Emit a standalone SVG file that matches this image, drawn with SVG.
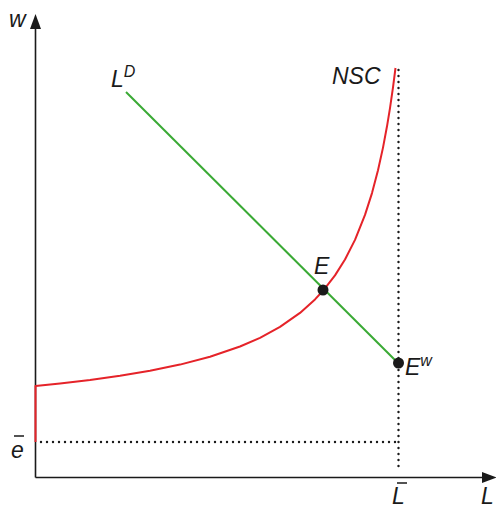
<svg xmlns="http://www.w3.org/2000/svg" width="496" height="508" viewBox="0 0 496 508">
<style>
.axis{stroke:#1a1a1a;stroke-width:1.6;fill:none}
.dot{stroke:#1a1a1a;stroke-width:2.4;stroke-dasharray:0 6;stroke-linecap:round;fill:none}
.lbl{font-family:"Liberation Sans",Arial,sans-serif;font-style:italic;font-size:23px;fill:#1a1a1a}
.sup{font-size:16px}
</style>
<rect width="496" height="508" fill="#fff"/>
<g id="axes">
<line class="axis" x1="35.5" y1="477.5" x2="35.5" y2="26"/>
<polygon points="35.5,14 30,29 41,29" fill="#1a1a1a"/>
<line class="axis" x1="35.5" y1="477.5" x2="486" y2="477.5"/>
<polygon points="497,477.5 482,472 482,483" fill="#1a1a1a"/>
</g>
<g id="connectors">
<line class="dot" x1="41" y1="442" x2="398" y2="442"/>
<line class="dot" x1="398.5" y1="70" x2="398.5" y2="472"/>
<path d="M35.5,442 L35.5,386 L60,383.5 L90,380 L120,375.8 L150,370.8 L180,364.6 L210,356.7 L240,346.5 L260,337.8 L280,326.9 L300,312.9 L315,299.4 L323,290.8 L335,275.4 L345,259.5 L355,239.9 L365,214.9 L372,193.1 L378,170.3 L383,147.6 L387,126.3 L390,108.1 L393,87.4 L395.5,68" fill="none" stroke="#e52329" stroke-width="2" stroke-linejoin="round"/>
<line x1="126" y1="92" x2="398" y2="363" stroke="#3aaa35" stroke-width="2"/>
</g>
<g id="E">
<circle cx="323" cy="290" r="5.5" fill="#1a1a1a"/>
<text class="lbl" x="314" y="274">E</text>
</g>
<g id="Ew">
<circle cx="398.5" cy="363" r="5.5" fill="#1a1a1a"/>
<text class="lbl" x="405" y="375">E<tspan class="sup" dy="-9">w</tspan></text>
</g>
<g id="labels">
<text class="lbl" x="9" y="27">w</text>
<text class="lbl" x="111" y="87">L<tspan class="sup" dy="-10">D</tspan></text>
<text class="lbl" x="332" y="84">NSC</text>
<text class="lbl" x="11" y="458">e</text>
<line x1="14" y1="436" x2="24" y2="436" stroke="#1a1a1a" stroke-width="1.5"/>
<text class="lbl" x="392" y="504">L</text>
<line x1="397" y1="483" x2="407" y2="483" stroke="#1a1a1a" stroke-width="1.5"/>
<text class="lbl" x="481" y="504">L</text>
</g>
</svg>
